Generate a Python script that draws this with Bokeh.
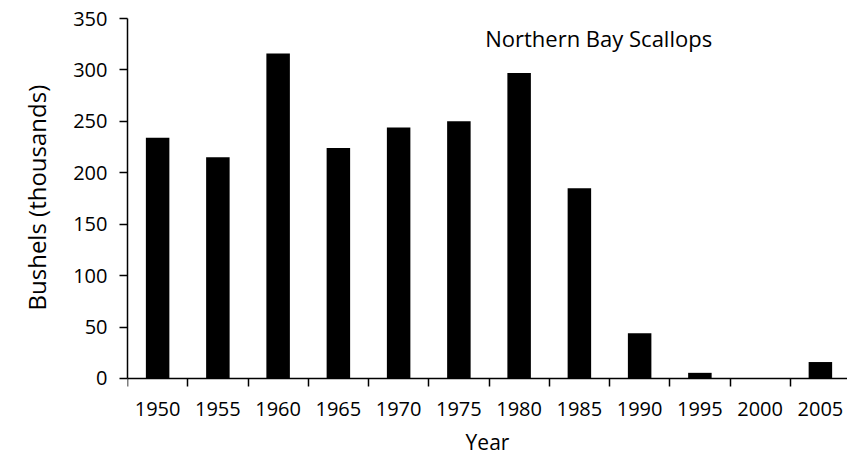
from bokeh.plotting import figure
from bokeh.models import Range1d, FixedTicker, Label, Title
from bokeh.embed import file_html
from bokeh.resources import INLINE

years = ["1950", "1955", "1960", "1965", "1970", "1975", "1980", "1985", "1990", "1995", "2000", "2005"]
bushels = [234, 215, 316, 224, 244, 250, 297, 185, 44, 5.5, 0, 16]
y_ticks = [0, 50, 100, 150, 200, 250, 300, 350]

FONT = "Open Sans"
n = len(years)
centers = [i + 0.5 for i in range(n)]

# frame runs to the bottom of the canvas; the x axis is pinned at y = 0
p = figure(width=847, height=454, output_backend="svg", toolbar_location=None,
           x_range=Range1d(0, 11.95), y_range=Range1d(-73.9, 350),
           min_border_left=117, min_border_right=0, min_border_top=18, min_border_bottom=0)
p.outline_line_color = None
p.grid.visible = False

p.vbar(x=centers, top=bushels, width=0.39, bottom=0, fill_color="black", line_color=None)

# x axis: labels at category centres, tick marks at category boundaries
xax = p.xaxis[0]
xax.fixed_location = 0
xax.ticker = FixedTicker(ticks=centers, minor_ticks=list(range(n + 1)))
xax.major_label_overrides = {c: y for c, y in zip(centers, years)}
xax.major_tick_line_color = None
xax.major_tick_out = 0
xax.major_tick_in = 0
xax.minor_tick_out = 8
xax.minor_tick_in = 0
xax.minor_tick_line_color = "black"
xax.minor_tick_line_width = 1.5
xax.axis_line_width = 1.5
xax.axis_line_color = "black"
xax.major_label_text_font = FONT
xax.major_label_text_font_size = "20px"
xax.major_label_text_color = "black"
xax.major_label_standoff = 16
xax.axis_label = "Year"
xax.axis_label_text_font = FONT
xax.axis_label_text_font_size = "21px"
xax.axis_label_text_font_style = "normal"
xax.axis_label_text_color = "black"
xax.axis_label_standoff = 8

yax = p.yaxis[0]
yax.bounds = (0, 350)
yax.ticker = FixedTicker(ticks=y_ticks)
yax.minor_tick_line_color = None
yax.major_tick_out = 8
yax.major_tick_in = 0
yax.major_tick_line_width = 1.5
yax.axis_line_width = 1.5
yax.axis_line_color = "black"
yax.major_label_text_font = FONT
yax.major_label_text_font_size = "20px"
yax.major_label_text_color = "black"
yax.major_label_standoff = 12

# y-axis title, positioned along the 0-350 part of the axis
p.add_layout(Title(text="Bushels (thousands)", align="left", offset=144, standoff=35,
                   text_font=FONT, text_font_size="24px", text_font_style="normal",
                   text_color="black"), "left")

p.add_layout(Label(x=7.82, y=331, text="Northern Bay Scallops", text_font=FONT,
                   text_font_size="22px", text_align="center", text_baseline="middle",
                   text_color="black"))

open("out.html", "w").write(file_html(p, INLINE))
